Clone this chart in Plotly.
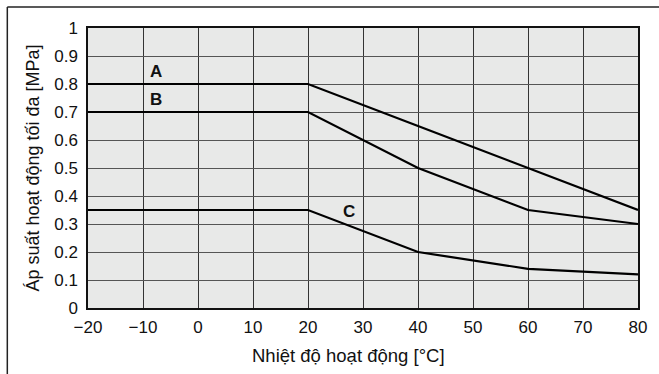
import plotly.graph_objects as go

temps = [-20, 20, 40, 60, 80]
series_a = [0.8, 0.8, 0.65, 0.5, 0.35]
series_b = [0.7, 0.7, 0.5, 0.35, 0.3]
series_c = [0.35, 0.35, 0.2, 0.14, 0.12]
series_names = ["A", "B", "C"]
label_x = [-7.7, -7.7, 27.5]
label_y = [0.846, 0.743, 0.343]

x_ticks = [-20, -10, 0, 10, 20, 30, 40, 50, 60, 70, 80]
x_ticktext = ["\u221220", "\u221210", "0", "10", "20", "30", "40", "50", "60", "70", "80"]
y_ticks = [0, 0.1, 0.2, 0.3, 0.4, 0.5, 0.6, 0.7, 0.8, 0.9, 1]
y_ticktext = ["0", "0.1", "0.2", "0.3", "0.4", "0.5", "0.6", "0.7", "0.8", "0.9", "1"]
x_title = "Nhiệt độ hoạt động [°C]"
y_title = "Áp suất hoạt động tối đa [MPa]"

fig = go.Figure()
for name, ys in zip(series_names, [series_a, series_b, series_c]):
    fig.add_trace(go.Scatter(x=temps, y=ys, mode="lines", name=name,
                             line=dict(color="black", width=2.2), showlegend=False,
                             hoverinfo="skip"))

for name, lx, ly in zip(series_names, label_x, label_y):
    fig.add_annotation(x=lx, y=ly, text="<b>%s</b>" % name, showarrow=False,
                       font=dict(family="Liberation Sans, Arial", size=17, color="#111"),
                       xanchor="center", yanchor="middle")

# x-axis title (slightly left of plot centre, as in the reference)
fig.add_annotation(xref="paper", yref="paper", x=0.473, y=-0.168, text=x_title,
                   showarrow=False, xanchor="center", yanchor="middle",
                   font=dict(family="Liberation Sans, Arial", size=18.5, color="#111"))

# outer frame (top and left lines)
fig.add_shape(type="line", xref="paper", yref="paper", x0=-0.1467, x1=1.05, y0=1.075, y1=1.075,
              line=dict(color="#222", width=1.5))
fig.add_shape(type="line", xref="paper", yref="paper", x0=-0.1467, x1=-0.1467, y0=1.075, y1=-0.25,
              line=dict(color="#222", width=1.5))

fig.update_layout(
    width=659, height=374,
    margin=dict(l=88, r=19, t=28, b=66),
    paper_bgcolor="white",
    plot_bgcolor="#e8e9e8",
    font=dict(family="Liberation Sans, Arial", size=17, color="#111"),
    xaxis=dict(range=[-20, 80], tickvals=x_ticks, ticktext=x_ticktext,
               showgrid=True, gridcolor="#333", gridwidth=1,
               showline=True, linecolor="#111", linewidth=1.5, mirror=True,
               ticks="outside", ticklen=3, tickcolor="rgba(0,0,0,0)",
               zeroline=False, fixedrange=True),
    yaxis=dict(range=[0, 1], tickvals=y_ticks, ticktext=y_ticktext,
               showgrid=True, gridcolor="#555", gridwidth=1,
               showline=True, linecolor="#111", linewidth=1.5, mirror=True,
               ticks="outside", ticklen=5, tickcolor="rgba(0,0,0,0)",
               zeroline=False, fixedrange=True,
               title=dict(text=y_title, font=dict(size=18), standoff=10)),
)

fig.write_html("out.html", post_script="document.body.style.margin='0';",
               config={"displayModeBar": False})
